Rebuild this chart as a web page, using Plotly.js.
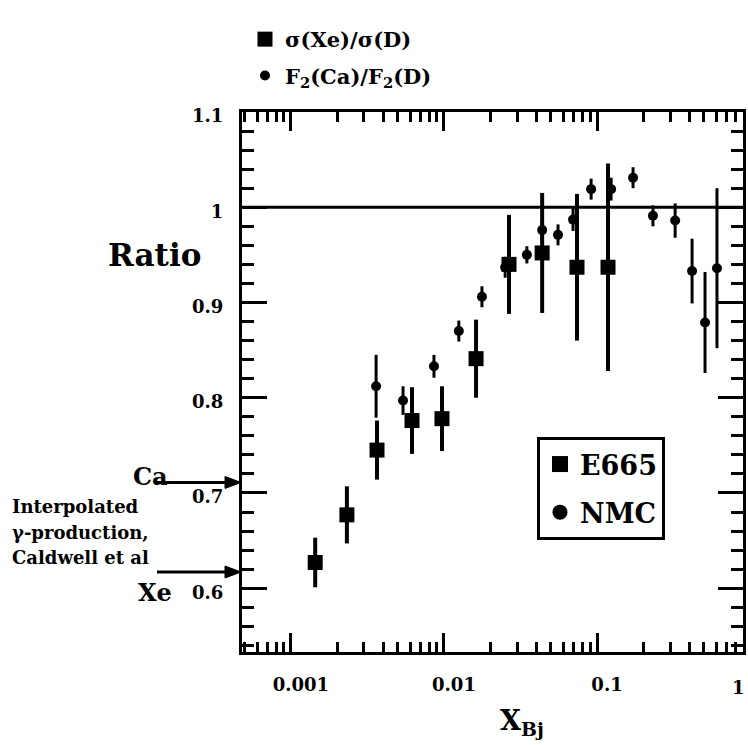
<!DOCTYPE html>
<html>
<head>
<meta charset="utf-8">
<script src="https://cdn.plot.ly/plotly-3.0.1.min.js"></script>
<style>
  html, body { margin: 0; padding: 0; background: #fff; }
  #chart { width: 748px; height: 745px; }
</style>
</head>
<body>
<div id="chart"></div>
<script>
// E665: sigma(Xe)/sigma(D)
const e665X   = [0.00144, 0.00232, 0.00365, 0.00618, 0.0097, 0.0162, 0.0266, 0.0438, 0.074, 0.118];
const e665Y   = [0.627, 0.677, 0.745, 0.776, 0.778, 0.841, 0.940, 0.952, 0.937, 0.937];
const e665Err = [0.026, 0.030, 0.031, 0.035, 0.034, 0.041, 0.052, 0.063, 0.077, 0.109];

// NMC: F2(Ca)/F2(D)
const nmcX   = [0.0036, 0.0054, 0.0086, 0.0125, 0.0177, 0.0251, 0.0348, 0.0438, 0.0556, 0.0697,
                0.0915, 0.1236, 0.172, 0.232, 0.324, 0.418, 0.508, 0.608];
const nmcY   = [0.812, 0.797, 0.833, 0.870, 0.906, 0.937, 0.950, 0.976, 0.971, 0.987,
                1.019, 1.019, 1.031, 0.991, 0.986, 0.933, 0.879, 0.936];
const nmcErr = [0.033, 0.015, 0.012, 0.011, 0.011, 0.011, 0.009, 0.011, 0.011, 0.012,
                0.011, 0.012, 0.011, 0.011, 0.018, 0.034, 0.053, 0.084];

// Interpolated photoproduction ratios (Caldwell et al)
const gammaLabels = ['Ca', 'Xe'];
const gammaRatio  = [0.711, 0.617];

const unityRatio = 1;

// Axis ticks
const xMajorVals = [0.001, 0.01, 0.1];
const xMajorText = ['0.001', '0.01', '0.1'];
const yMajorVals = [0.6, 0.7, 0.8, 0.9, 1.0, 1.1];
const yMajorText = ['0.6', '0.7', '0.8', '0.9', '1', '1.1'];

const xMinorVals = [];
[0.0001, 0.001, 0.01, 0.1].forEach(d => {
  for (let m = 2; m <= 9; m++) xMinorVals.push(+(m * d).toPrecision(3));
});
const yMinorVals = [];
for (let k = 27; k <= 55; k++) if (k % 5 !== 0) yMinorVals.push(+(k * 0.02).toFixed(2));

// Page geometry helpers (plot area: 242..743 px horizontally, 112..652 px vertically)
const L = 242, R = 5, T = 112, B = 93, W = 748, H = 745;
const PW = W - L - R, PH = H - T - B;
const px = x => (x - L) / PW;
const py = y => (T + PH - y) / PH;

const SERIF = '"DejaVu Serif", "Liberation Serif", serif';
const serif = (size) => ({ family: SERIF, size: size, color: '#000', weight: 'bold' });

const traces = [
  {
    x: e665X, y: e665Y, type: 'scatter', mode: 'markers',
    name: 'σ(Xe)/σ(D)', legend: 'legend', legendgroup: 'a',
    marker: { symbol: 'square', size: 15, color: '#000' },
    error_y: { type: 'data', array: e665Err, visible: true, color: '#000', thickness: 4, width: 0 },
    cliponaxis: false
  },
  {
    x: nmcX, y: nmcY, type: 'scatter', mode: 'markers',
    name: 'F<sub>2</sub>(Ca)/F<sub>2</sub>(D)', legend: 'legend', legendgroup: 'b',
    marker: { symbol: 'circle', size: 10, color: '#000' },
    error_y: { type: 'data', array: nmcErr, visible: true, color: '#000', thickness: 3, width: 0 }
  },
  {
    x: [null], y: [null], type: 'scatter', mode: 'markers',
    name: 'E665', legend: 'legend2', legendgroup: 'c',
    marker: { symbol: 'square', size: 19, color: '#000' }, hoverinfo: 'skip'
  },
  {
    x: [null], y: [null], type: 'scatter', mode: 'markers',
    name: 'NMC', legend: 'legend2', legendgroup: 'd',
    marker: { symbol: 'circle', size: 15, color: '#000' }, hoverinfo: 'skip'
  }
];

const annotations = [
  { text: 'Ratio', xref: 'paper', yref: 'paper', x: px(154), y: py(255),
    showarrow: false, font: serif(31), xanchor: 'center', yanchor: 'middle' },
  { text: 'X<sub>Bj</sub>', xref: 'paper', yref: 'paper', x: px(522), y: py(722),
    showarrow: false, font: serif(27), xanchor: 'center', yanchor: 'middle' },
  { text: '1', xref: 'paper', yref: 'paper', x: px(747), y: py(687),
    showarrow: false, font: serif(18), xanchor: 'right', yanchor: 'middle' },
  { text: 'Interpolated', xref: 'paper', yref: 'paper', x: px(10), y: py(507),
    showarrow: false, font: serif(18), xanchor: 'left', yanchor: 'middle' },
  { text: 'γ-production,', xref: 'paper', yref: 'paper', x: px(10), y: py(532),
    showarrow: false, font: serif(18), xanchor: 'left', yanchor: 'middle' },
  { text: 'Caldwell et al', xref: 'paper', yref: 'paper', x: px(10), y: py(557),
    showarrow: false, font: serif(18), xanchor: 'left', yanchor: 'middle' },
  { text: gammaLabels[0], xref: 'paper', yref: 'paper', x: px(150), y: py(476),
    showarrow: false, font: serif(24), xanchor: 'center', yanchor: 'middle' },
  { text: gammaLabels[1], xref: 'paper', yref: 'paper', x: px(155), y: py(592),
    showarrow: false, font: serif(24), xanchor: 'center', yanchor: 'middle' }
];

const shapes = [
  { type: 'line', xref: 'paper', yref: 'y', x0: 0, x1: 1, y0: unityRatio, y1: unityRatio,
    line: { color: '#000', width: 3 } }
];

// horizontal arrows pointing at the interpolated ratio on the y axis
gammaRatio.forEach(v => {
  shapes.push({
    type: 'path', xref: 'paper', yref: 'y', xsizemode: 'pixel', ysizemode: 'pixel',
    xanchor: 0, yanchor: v, path: 'M-85,0 L-10,0',
    line: { color: '#000', width: 3 }
  });
  shapes.push({
    type: 'path', xref: 'paper', yref: 'y', xsizemode: 'pixel', ysizemode: 'pixel',
    xanchor: 0, yanchor: v, path: 'M-17,-6 L-1,0 L-17,6 Z',
    fillcolor: '#000', line: { color: '#000', width: 1 }
  });
});

const layout = {
  width: W, height: H,
  margin: { l: L, r: R, t: T, b: B, pad: 0 },
  paper_bgcolor: '#fff', plot_bgcolor: '#fff',
  showlegend: true,
  font: serif(18),
  xaxis: {
    type: 'log', range: [-3.32, -0.046],
    showgrid: false, zeroline: false,
    showline: true, linecolor: '#000', linewidth: 3, mirror: 'allticks',
    ticks: 'inside', ticklen: 19, tickwidth: 3, tickcolor: '#000',
    tickmode: 'array', tickvals: xMajorVals, ticktext: xMajorText,
    tickfont: serif(18), ticklabelstandoff: 14, ticklabelshift: 10,
    minor: { tickmode: 'array', tickvals: xMinorVals, ticks: 'inside',
             ticklen: 10, tickwidth: 3, tickcolor: '#000', showgrid: false }
  },
  yaxis: {
    range: [0.533, 1.1],
    showgrid: false, zeroline: false,
    showline: true, linecolor: '#000', linewidth: 3, mirror: 'allticks',
    ticks: 'inside', ticklen: 25, tickwidth: 3, tickcolor: '#000',
    tickmode: 'array', tickvals: yMajorVals, ticktext: yMajorText,
    tickfont: serif(18), ticklabelstandoff: 12, ticklabelshift: 4,
    minor: { tickmode: 'array', tickvals: yMinorVals, ticks: 'inside',
             ticklen: 12, tickwidth: 3, tickcolor: '#000', showgrid: false }
  },
  legend: {
    x: px(245), y: py(19), xanchor: 'left', yanchor: 'top',
    bgcolor: 'rgba(0,0,0,0)', borderwidth: 0,
    font: serif(21), tracegroupgap: 6, itemclick: false
  },
  legend2: {
    x: px(537), y: py(437), xanchor: 'left', yanchor: 'top',
    bgcolor: '#fff', bordercolor: '#000', borderwidth: 3,
    font: serif(27), tracegroupgap: 10, itemclick: false,
    entrywidth: 95, entrywidthmode: 'pixels'
  },
  shapes: shapes,
  annotations: annotations
};

Plotly.newPlot('chart', traces, layout, { displayModeBar: false, staticPlot: true });
</script>
</body>
</html>
